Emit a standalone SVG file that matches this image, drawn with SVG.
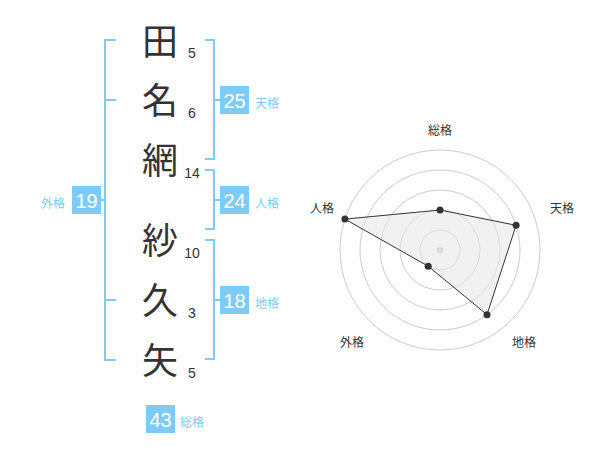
<svg xmlns="http://www.w3.org/2000/svg" width="600" height="470" viewBox="0 0 600 470">
<style>
.kanji{font-family:"Noto Sans CJK JP","Noto Sans CJK SC",sans-serif;font-size:36px;fill:#333;text-anchor:middle}
.cnt{font-family:"Liberation Sans",Arial,sans-serif;font-size:14px;fill:#333;text-anchor:middle}
.box{fill:#7fcbf7}
.boxnum{font-family:"Liberation Sans",Arial,sans-serif;font-size:20px;fill:#fff;text-anchor:middle}
.lbl{font-family:"Noto Sans CJK JP","Noto Sans CJK SC",sans-serif;font-size:12px;fill:#7fcbf7}
.br{fill:none;stroke:#7fcbf7;stroke-width:2}
.ring{fill:none;stroke:#ccc;stroke-width:1}
.axis{font-family:"Noto Sans CJK JP","Noto Sans CJK SC",sans-serif;font-size:12px;fill:#333;text-anchor:middle}
.dot{fill:#333}
</style>
<rect width="600" height="470" fill="#fff"/>
<g id="connectors">
<path class="br" d="M116,40 H105 V360 H116 M105,100 H116 M105,300 H116 M105,200 H101"/>
<path class="br" d="M205,40 H214 V159 H205 M214,100 H220"/>
<path class="br" d="M205,170 H214 V229 H205 M214,200 H220"/>
<path class="br" d="M205,240 H214 V359 H205 M214,300 H220"/>
</g>
<g id="name">
<text class="kanji" x="160" y="55">田</text>
<text class="kanji" x="160" y="114">名</text>
<text class="kanji" x="160" y="174">網</text>
<text class="kanji" x="160" y="254">紗</text>
<text class="kanji" x="160" y="314">久</text>
<text class="kanji" x="160" y="374">矢</text>
<text class="cnt" x="192" y="58">5</text>
<text class="cnt" x="192" y="118">6</text>
<text class="cnt" x="192" y="178">14</text>
<text class="cnt" x="192" y="258">10</text>
<text class="cnt" x="192" y="318">3</text>
<text class="cnt" x="192" y="378">5</text>
</g>
<g id="tenkaku">
<rect class="box" x="220" y="86" width="29" height="28"/>
<text class="boxnum" x="234.5" y="108">25</text>
<text class="lbl" x="255" y="108">天格</text>
</g>
<g id="jinkaku">
<rect class="box" x="220" y="186" width="29" height="28"/>
<text class="boxnum" x="234.5" y="208">24</text>
<text class="lbl" x="255" y="208">人格</text>
</g>
<g id="chikaku">
<rect class="box" x="220" y="286" width="29" height="28"/>
<text class="boxnum" x="234.5" y="308">18</text>
<text class="lbl" x="255" y="308">地格</text>
</g>
<g id="gaikaku">
<rect class="box" x="72" y="186" width="29" height="28"/>
<text class="boxnum" x="86.5" y="208">19</text>
<text class="lbl" x="41" y="208">外格</text>
</g>
<g id="soukaku">
<rect class="box" x="146" y="405" width="29" height="28"/>
<text class="boxnum" x="160.5" y="427">43</text>
<text class="lbl" x="180" y="427">総格</text>
</g>
<g id="radar">
<circle class="ring" cx="440" cy="250" r="20"/>
<circle class="ring" cx="440" cy="250" r="40"/>
<circle class="ring" cx="440" cy="250" r="60"/>
<circle class="ring" cx="440" cy="250" r="80"/>
<circle class="ring" cx="440" cy="250" r="100"/>
<circle cx="440" cy="250" r="3.5" fill="#ccc"/>
<polygon points="440,210 516.1,225.3 487,314.7 428.2,266.2 344.9,219.1" fill="#e8e8e8" fill-opacity="0.6" stroke="#333" stroke-width="1"/>
<circle class="dot" cx="440" cy="210" r="3.5"/>
<circle class="dot" cx="516.1" cy="225.3" r="3.5"/>
<circle class="dot" cx="487" cy="314.7" r="3.5"/>
<circle class="dot" cx="428.2" cy="266.2" r="3.5"/>
<circle class="dot" cx="344.9" cy="219.1" r="3.5"/>
<text class="axis" x="440" y="135">総格</text>
<text class="axis" x="562" y="213">天格</text>
<text class="axis" x="322" y="213">人格</text>
<text class="axis" x="352" y="347">外格</text>
<text class="axis" x="524" y="347">地格</text>
</g>
</svg>
